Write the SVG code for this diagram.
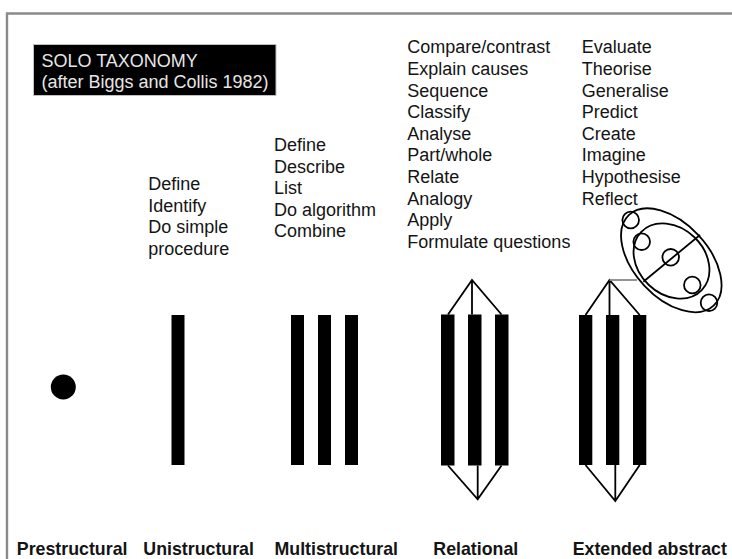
<svg xmlns="http://www.w3.org/2000/svg" width="732" height="559" viewBox="0 0 732 559">
<style>
.t{font-family:"Liberation Sans",Arial,sans-serif;font-size:18px;fill:#141414}
.lbl{font-family:"Liberation Sans",Arial,sans-serif;font-size:17.8px;font-weight:bold;fill:#141414}
.ttl{font-family:"Liberation Sans",Arial,sans-serif;font-size:18px;fill:#e6e6e6}
.bar{fill:#000}
.ln{stroke:#000;stroke-width:1.8;fill:none}
.gr{stroke:#888;stroke-width:1.8;fill:none}
</style>
<rect width="732" height="559" fill="#fff"/>
<path d="M7,559 V13.5 H732" fill="none" stroke="#8a8a8a" stroke-width="2.4"/>
<g id="title">
<rect x="33.5" y="44.5" width="242.5" height="51" fill="#000" stroke="#c0c0c0" stroke-width="1"/>
<text class="ttl" x="41.5" y="67">SOLO TAXONOMY</text>
<text class="ttl" x="41.5" y="87.5">(after Biggs and Collis 1982)</text>
</g>
<g id="prestructural">
<circle cx="63.3" cy="387" r="12.5" fill="#000"/>
<text class="lbl" x="16.8" y="555">Prestructural</text>
</g>
<g id="unistructural">
<text class="t" x="148.3" y="190">Define</text>
<text class="t" x="148.3" y="211.5">Identify</text>
<text class="t" x="148.3" y="233">Do simple</text>
<text class="t" x="148.3" y="254.5">procedure</text>
<rect class="bar" x="171.5" y="315" width="13" height="150"/>
<text class="lbl" x="143.3" y="555">Unistructural</text>
</g>
<g id="multistructural">
<text class="t" x="274" y="151">Define</text>
<text class="t" x="274" y="172.5">Describe</text>
<text class="t" x="274" y="194">List</text>
<text class="t" x="274" y="215.5">Do algorithm</text>
<text class="t" x="274" y="237">Combine</text>
<rect class="bar" x="291" y="315" width="13" height="150"/>
<rect class="bar" x="318" y="315" width="13" height="150"/>
<rect class="bar" x="345" y="315" width="13" height="150"/>
<text class="lbl" x="274.5" y="555">Multistructural</text>
</g>
<g id="relational">
<text class="t" x="407.3" y="53.3">Compare/contrast</text>
<text class="t" x="407.3" y="74.9">Explain causes</text>
<text class="t" x="407.3" y="96.5">Sequence</text>
<text class="t" x="407.3" y="118.1">Classify</text>
<text class="t" x="407.3" y="139.7">Analyse</text>
<text class="t" x="407.3" y="161.3">Part/whole</text>
<text class="t" x="407.3" y="182.9">Relate</text>
<text class="t" x="407.3" y="204.5">Analogy</text>
<text class="t" x="407.3" y="226.1">Apply</text>
<text class="t" x="407.3" y="247.7">Formulate questions</text>
<rect class="bar" x="441" y="314.5" width="13.5" height="151"/>
<rect class="bar" x="468" y="314.5" width="13.5" height="151"/>
<rect class="bar" x="495" y="314.5" width="13.5" height="151"/>
<text class="lbl" x="433.3" y="555">Relational</text>
</g>
<g id="extended-abstract">
<text class="t" x="581.7" y="53.3">Evaluate</text>
<text class="t" x="581.7" y="74.9">Theorise</text>
<text class="t" x="581.7" y="96.5">Generalise</text>
<text class="t" x="581.7" y="118.1">Predict</text>
<text class="t" x="581.7" y="139.7">Create</text>
<text class="t" x="581.7" y="161.3">Imagine</text>
<text class="t" x="581.7" y="182.9">Hypothesise</text>
<text class="t" x="581.7" y="204.5">Reflect</text>
<rect class="bar" x="579" y="315" width="13.3" height="150"/>
<rect class="bar" x="606" y="315" width="13.3" height="150"/>
<rect class="bar" x="633" y="315" width="13.3" height="150"/>
<text class="lbl" x="572.7" y="555">Extended abstract</text>
</g>
<g id="abstract-ellipse">
<ellipse class="ln" cx="671.3" cy="260.3" rx="62" ry="37" transform="rotate(47 671.3 260.3)"/>
<ellipse class="ln" cx="671.5" cy="261" rx="42" ry="33" transform="rotate(44 671.5 261)"/>
<line class="ln" x1="700" y1="235" x2="643.3" y2="281.7"/>
<circle class="ln" cx="630.7" cy="220" r="8.3"/>
<circle class="ln" cx="641.7" cy="241.7" r="8.3"/>
<circle class="ln" cx="670.7" cy="257.3" r="8.3"/>
<circle class="ln" cx="692.3" cy="285" r="8.3"/>
<circle class="ln" cx="709" cy="302.7" r="8.3"/>
</g>
<g id="connectors">
<path class="ln" d="M448,314.5 L472,280 L501.5,314.5 M472,280 V314.5"/>
<path class="ln" d="M448,465.5 L477.7,499.3 L501.5,465.5 M477.7,465.5 V499.3"/>
<path class="ln" d="M585.5,315 L609.5,280 L639.7,315 M609.5,280 V315"/>
<path class="ln" d="M585.5,465 L615.3,501 L639.7,465 M615.3,465 V501"/>
<path class="gr" d="M609.5,280 H637"/>
</g>
</svg>
